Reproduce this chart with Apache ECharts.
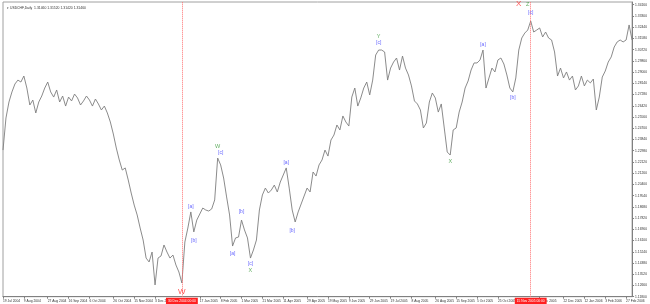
<!DOCTYPE html>
<html><head><meta charset="utf-8">
<script src="https://cdn.jsdelivr.net/npm/echarts@6/dist/echarts.min.js"></script>
<style>html,body{margin:0;padding:0;background:#fff}#c{width:650px;height:304px}</style>
</head><body><div id="c"></div>
<script>
// Close prices, one value per ~2 daily bars
const closes = [
1.2303,1.2549,1.2671,1.2748,1.2809,1.2839,1.2824,1.2870,1.2778,1.2648,
1.2686,1.2587,1.2671,1.2717,1.2778,1.2824,1.2748,1.2709,1.2763,1.2671,
1.2717,1.2640,1.2709,1.2679,1.2732,1.2702,1.2648,1.2679,1.2717,1.2686,
1.2640,1.2694,1.2656,1.2610,1.2640,1.2587,1.2518,1.2426,1.2319,1.2227,
1.2150,1.2166,1.2074,1.1974,1.1882,1.1806,1.1706,1.1614,1.1476,1.1446,
1.1522,1.1270,1.1476,1.1492,1.1576,1.1522,1.1476,1.1499,1.1423,1.1369,
1.1285,1.1599,1.1706,1.1829,1.1676,1.1767,1.1813,1.1859,1.1844,1.1836,
1.1852,1.1921,1.2242,1.2189,1.2089,1.1944,1.1806,1.1568,1.1630,1.1637,
1.1767,1.1691,1.1630,1.1476,1.1538,1.1614,1.1844,1.1959,1.2012,1.1974,
1.1997,1.2035,1.1982,1.2058,1.2112,1.2166,1.2012,1.1844,1.1752,1.1829,
1.1890,1.1951,1.2012,1.1982,1.2135,1.2104,1.2189,1.2227,1.2303,1.2257,
1.2380,1.2418,1.2495,1.2457,1.2564,1.2518,1.2487,1.2709,1.2778,1.2640,
1.2702,1.2778,1.2824,1.2725,1.2839,1.3031,1.3069,1.3069,1.3054,1.2839,
1.2931,1.2977,1.3008,1.2916,1.3023,1.2931,1.2878,1.2794,1.2679,1.2656,
1.2610,1.2472,1.2510,1.2671,1.2740,1.2702,1.2594,1.2656,1.2472,1.2288,
1.2265,1.2457,1.2472,1.2594,1.2671,1.2778,1.2832,1.2916,1.2970,1.2970,
1.2993,1.3069,1.2778,1.2855,1.2931,1.2901,1.2993,1.3008,1.2962,1.2878,
1.2778,1.2748,1.2855,1.3069,1.3161,1.3199,1.3222,1.3291,1.3207,1.3222,
1.3238,1.3169,1.3207,1.3161,1.3146,1.3054,1.2870,1.2931,1.2855,1.2901,
1.2839,1.2870,1.2763,1.2794,1.2870,1.2794,1.2839,1.2817,1.2847,1.2610,
1.2709,1.2862,1.2908,1.2977,1.3016,1.3092,1.3131,1.3146,1.3131,1.3146,
1.3261,1.3146
];
const tickIdx = [0,7,15,22,29,37,44,51,66,73,80,87,94,102,109,116,123,130,137,145,152,159,166,180,188,195,202,209];
const tickLabels = ['19 Jul 2004','9 Aug 2004','27 Aug 2004','16 Sep 2004','6 Oct 2004','26 Oct 2004','15 Nov 2004','3 Dec 2004',
 '17 Jan 2005','8 Feb 2005','1 Mar 2005','21 Mar 2005','11 Apr 2005','29 Apr 2005','19 May 2005','9 Jun 2005','29 Jun 2005',
 '19 Jul 2005','8 Aug 2005','26 Aug 2005','15 Sep 2005','5 Oct 2005','25 Oct 2005','2 Dec 2005','22 Dec 2005','12 Jan 2006','3 Feb 2006','27 Feb 2006'];
const yMin = 1.118, yMax = 1.34369, yStep = 0.0086;
const eventIdx = [60, 177];
const eventLabels = ['30 Dec 2004 00:00', '15 Nov 2005 00:00'];
const waveText  = ['W','[a]','[b]','W','[c]','[a]','[b]','[c]','X','[a]','[b]','Y','[c]','X','[a]','[b]','X','Z','[c]'];
const waveIdx   = [60,63,64,72,73,77,80,83,83,95,97,126,126,150,161,171,173,176,177];
const wavePrice = [1.1216,1.1867,1.1607,1.2334,1.2283,1.1512,1.1834,1.1436,1.1377,1.2204,1.1683,1.3176,1.3125,1.2219,1.3108,1.2702,1.3422,1.3416,1.3355];
const waveKind  = ['R','B','B','G','B','B','B','B','G','B','B','G','B','G','B','B','R','G','B'];
const titleText = '\u25BE USDCHF,Daily  1.31460 1.31520 1.31420 1.31460';

const categories = closes.map(() => '');
tickIdx.forEach((k, i) => { categories[k] = tickLabels[i]; });
const kindColor = { R: '#ff2a2a', G: '#3a9a3a', B: '#3b3bff' };
const kindSize = { R: 8, G: 5.5, B: 5 };

const chart = echarts.init(document.getElementById('c'), null, { renderer: 'canvas' });
chart.setOption({
  animation: false,
  backgroundColor: '#ffffff',
  textStyle: { fontFamily: 'Liberation Sans, Arial, sans-serif' },
  title: { text: titleText, left: 2, top: 2, textStyle: { fontSize: 3.4, fontWeight: 'normal', color: '#333' } },
  grid: { left: 1, right: 16, top: 2, bottom: 7.3, show: true, borderColor: '#a0a0a0', borderWidth: 1 },
  xAxis: {
    type: 'category', data: categories, boundaryGap: false,
    axisLine: { lineStyle: { color: '#808080', width: 1 } },
    axisTick: { show: true, length: 2, interval: (i, v) => v !== '', lineStyle: { color: '#808080' } },
    axisLabel: { interval: (i, v) => v !== '', fontSize: 3.3, color: '#333', align: 'left', margin: 2.5, showMaxLabel: true },
    splitLine: { show: false }
  },
  yAxis: {
    type: 'value', position: 'right', min: yMin, max: yMax, interval: yStep,
    axisLine: { show: true, lineStyle: { color: '#808080', width: 1 } },
    axisTick: { show: true, length: 2, lineStyle: { color: '#808080' } },
    axisLabel: { fontSize: 3.3, color: '#333', margin: 3, showMaxLabel: false, formatter: v => v.toFixed(5) },
    splitLine: { show: false }
  },
  series: [
    {
      type: 'line', data: closes, symbol: 'none', smooth: false,
      lineStyle: { color: '#7e7e7e', width: 0.9 },
      markLine: {
        silent: true, symbol: 'none',
        lineStyle: { color: '#ff7070', type: [1, 1], width: 1 },
        label: { show: true, position: 'start', distance: 1, fontSize: 3.3, color: '#ffffff', backgroundColor: '#ff2020', padding: [2, 2] },
        data: eventIdx.map((k, i) => ({ xAxis: k, label: { formatter: eventLabels[i] } }))
      }
    },
    {
      type: 'scatter', symbol: 'circle', symbolSize: 1,
      itemStyle: { color: 'rgba(0,0,0,0)' },
      data: waveIdx.map((k, i) => ({
        value: [k, wavePrice[i]],
        label: { show: true, position: 'inside', formatter: waveText[i], color: kindColor[waveKind[i]], fontSize: kindSize[waveKind[i]] }
      })),
      z: 5
    }
  ]
});
</script></body></html>
